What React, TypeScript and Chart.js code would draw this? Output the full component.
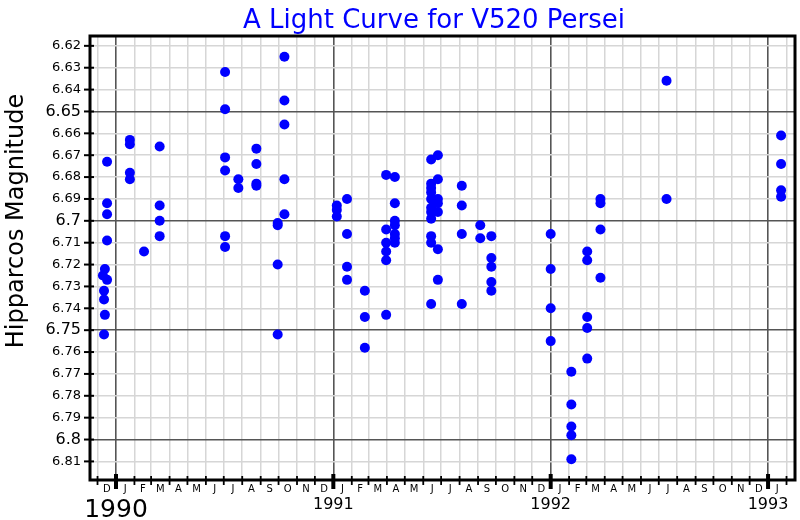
import React, { useEffect, useRef } from 'react';
import { Chart, registerables } from 'chart.js';

Chart.register(...registerables);

const TITLE = 'A Light Curve for V520 Persei';
const Y_LABEL = 'Hipparcos Magnitude';
const MONTH_LETTERS = ['J', 'F', 'M', 'A', 'M', 'J', 'J', 'A', 'S', 'O', 'N', 'D'];
const YEARS = [1990, 1991, 1992, 1993];
const Y_TICKS = [6.62, 6.63, 6.64, 6.65, 6.66, 6.67, 6.68, 6.69, 6.7, 6.71, 6.72, 6.73, 6.74, 6.75, 6.76, 6.77, 6.78, 6.79, 6.8, 6.81];
const Y_MAJOR = [6.65, 6.7, 6.75, 6.8];
const X_MIN = 1989.8805;
const X_MAX = 1993.124;
const Y_MIN = 6.6155;
const Y_MAX = 6.8185;

// observation epochs (decimal year) and Hipparcos magnitudes
const epochs = [
  1989.959, 1989.959, 1989.959, 1989.959, 1989.949, 1989.940, 1989.959, 1989.945, 1989.945, 1989.949, 1989.945,
  1990.064, 1990.064, 1990.064, 1990.064,
  1990.129,
  1990.201, 1990.201, 1990.201, 1990.201,
  1990.502, 1990.502, 1990.502, 1990.502, 1990.502, 1990.502,
  1990.563, 1990.563,
  1990.646, 1990.646, 1990.646, 1990.646,
  1990.744, 1990.744, 1990.744, 1990.744,
  1990.775, 1990.775, 1990.775, 1990.775, 1990.775,
  1991.016, 1991.016, 1991.016,
  1991.063, 1991.063, 1991.063, 1991.063,
  1991.145, 1991.145, 1991.145,
  1991.243, 1991.243, 1991.243, 1991.243, 1991.243, 1991.243,
  1991.283, 1991.283, 1991.283, 1991.283, 1991.283, 1991.283, 1991.283,
  1991.450, 1991.450, 1991.450, 1991.450, 1991.450, 1991.450, 1991.450, 1991.450, 1991.450, 1991.450, 1991.450,
  1991.481, 1991.481, 1991.481, 1991.481, 1991.481, 1991.481, 1991.481,
  1991.591, 1991.591, 1991.591, 1991.591,
  1991.676, 1991.676,
  1991.727, 1991.727, 1991.727, 1991.727, 1991.727,
  1992.000, 1992.000, 1992.000, 1992.000,
  1992.095, 1992.095, 1992.095, 1992.095, 1992.095,
  1992.168, 1992.168, 1992.168, 1992.168, 1992.168,
  1992.229, 1992.229, 1992.229, 1992.229,
  1992.533, 1992.533,
  1993.060, 1993.060, 1993.060, 1993.060,
];

const magnitudes = [
  6.673, 6.692, 6.697, 6.709, 6.722, 6.725, 6.727, 6.732, 6.736, 6.743, 6.752,
  6.663, 6.665, 6.678, 6.681,
  6.714,
  6.666, 6.693, 6.700, 6.707,
  6.632, 6.649, 6.671, 6.677, 6.707, 6.712,
  6.681, 6.685,
  6.667, 6.674, 6.683, 6.684,
  6.701, 6.702, 6.720, 6.752,
  6.625, 6.645, 6.656, 6.681, 6.697,
  6.693, 6.695, 6.698,
  6.690, 6.706, 6.721, 6.727,
  6.732, 6.744, 6.758,
  6.679, 6.704, 6.710, 6.714, 6.718, 6.743,
  6.680, 6.692, 6.700, 6.702, 6.706, 6.708, 6.710,
  6.672, 6.683, 6.685, 6.687, 6.690, 6.694, 6.696, 6.699, 6.707, 6.710, 6.738,
  6.670, 6.681, 6.690, 6.692, 6.696, 6.713, 6.727,
  6.684, 6.693, 6.706, 6.738,
  6.702, 6.708,
  6.707, 6.717, 6.721, 6.728, 6.732,
  6.706, 6.722, 6.740, 6.755,
  6.769, 6.784, 6.794, 6.798, 6.809,
  6.714, 6.718, 6.744, 6.749, 6.763,
  6.690, 6.692, 6.704, 6.726,
  6.636, 6.690,
  6.661, 6.674, 6.686, 6.689,
];

type TickDef = { value: number; kind: 'month' | 'year' | 'mid'; label: string };

function monthStart(y: number, m: number): number {
  const d = Date.UTC(y, m, 1);
  const yr = new Date(d).getUTCFullYear();
  const s = Date.UTC(yr, 0, 1);
  const e = Date.UTC(yr + 1, 0, 1);
  return yr + (d - s) / (e - s);
}

function buildXTicks(): TickDef[] {
  const defs: TickDef[] = [];
  let y = 1989;
  let m = 11;
  while (y < 1993 || (y === 1993 && m <= 0)) {
    const a = monthStart(y, m);
    const b = monthStart(y, m + 1);
    defs.push({ value: a, kind: m === 0 ? 'year' : 'month', label: '' });
    defs.push({ value: (a + b) / 2, kind: 'mid', label: MONTH_LETTERS[m] });
    m++;
    if (m > 11) { m = 0; y++; }
  }
  defs.push({ value: monthStart(1993, 1), kind: 'month', label: '' });
  return defs;
}

const X_TICKS = buildXTicks();
const FONT = '"DejaVu Sans", sans-serif';

export default function App() {
  const ref = useRef<HTMLCanvasElement | null>(null);

  useEffect(() => {
    if (!ref.current) return;
    const decor = {
      id: 'decor',
      afterDraw(chart: any) {
        const { ctx, chartArea: a, scales } = chart;
        const xs = scales.x;
        const ys = scales.y;
        ctx.save();
        ctx.strokeStyle = '#000';
        const line = (x1: number, y1: number, x2: number, y2: number) => {
          ctx.beginPath();
          ctx.moveTo(x1, y1);
          ctx.lineTo(x2, y2);
          ctx.stroke();
        };
        ctx.lineWidth = 2;
        for (const v of Y_TICKS) {
          const py = ys.getPixelForValue(v);
          line(a.left - 6, py, a.left + 4, py);
        }
        for (const d of X_TICKS) {
          if (d.kind === 'mid') continue;
          const px = xs.getPixelForValue(d.value);
          if (d.kind === 'year') {
            ctx.lineWidth = 4;
            line(px, a.bottom - 6, px, a.bottom + 9);
          } else {
            ctx.lineWidth = 1.8;
            line(px, a.bottom - 4, px, a.bottom + 5);
          }
        }
        ctx.lineWidth = 3;
        ctx.strokeRect(a.left, a.top, a.right - a.left, a.bottom - a.top);

        // year labels
        ctx.fillStyle = '#000';
        ctx.textAlign = 'center';
        ctx.textBaseline = 'alphabetic';
        for (const yr of YEARS) {
          const px = xs.getPixelForValue(yr);
          if (yr === 1990) {
            ctx.font = `25px ${FONT}`;
            ctx.fillText(String(yr), px, 517);
          } else {
            ctx.font = `16px ${FONT}`;
            ctx.fillText(String(yr), px, 509);
          }
        }
        // title
        ctx.fillStyle = '#0000ff';
        ctx.font = `26px ${FONT}`;
        ctx.fillText(TITLE, 434, 28);
        // y axis label
        ctx.fillStyle = '#000';
        ctx.translate(17, 221);
        ctx.rotate(-Math.PI / 2);
        ctx.font = `24px ${FONT}`;
        ctx.textBaseline = 'middle';
        ctx.fillText(Y_LABEL, 0, 0);
        ctx.restore();
      },
    };

    const chart = new Chart(ref.current, {
      type: 'scatter',
      data: {
        datasets: [
          {
            data: epochs.map((e, i) => ({ x: e, y: magnitudes[i] })),
            backgroundColor: '#0000ff',
            borderColor: '#0000ff',
            borderWidth: 0,
            pointRadius: 5,
          },
        ],
      },
      options: {
        animation: false,
        responsive: true,
        maintainAspectRatio: false,
        layout: { padding: { top: 36, right: 4, left: 0, bottom: 0 } },
        plugins: { legend: { display: false }, title: { display: false }, tooltip: { enabled: false } },
        scales: {
          x: {
            type: 'linear',
            min: X_MIN,
            max: X_MAX,
            afterBuildTicks: (scale: any) => {
              scale.ticks = X_TICKS.map((d) => ({ value: d.value }));
            },
            afterFit: (scale: any) => {
              scale.height = 40;
            },
            border: { display: false },
            grid: {
              drawTicks: false,
              color: (c: any) => {
                const d = X_TICKS[c.index];
                if (!d) return 'rgba(0,0,0,0)';
                if (d.kind === 'mid') return 'rgba(0,0,0,0)';
                if (d.kind === 'year') return '#555';
                return '#d6d6d6';
              },
              lineWidth: (c: any) => {
                const d = X_TICKS[c.index];
                return d && d.kind === 'year' ? 1.6 : 1.5;
              },
            },
            ticks: {
              autoSkip: false,
              maxRotation: 0,
              minRotation: 0,
              padding: 3,
              color: '#000',
              font: { family: FONT, size: 10 },
              callback: (_v: any, i: number) => (X_TICKS[i] ? X_TICKS[i].label : ''),
            },
          },
          y: {
            type: 'linear',
            reverse: true,
            min: Y_MIN,
            max: Y_MAX,
            afterBuildTicks: (scale: any) => {
              scale.ticks = Y_TICKS.map((v) => ({ value: v }));
            },
            afterFit: (scale: any) => {
              scale.width = 90;
            },
            border: { display: false },
            grid: {
              drawTicks: false,
              color: (c: any) => {
                const v = c.tick ? c.tick.value : NaN;
                return Y_MAJOR.some((m) => Math.abs(m - v) < 1e-6) ? '#555' : '#d6d6d6';
              },
              lineWidth: 1.5,
            },
            ticks: {
              autoSkip: false,
              padding: 9,
              color: '#000',
              font: (c: any) => {
                const v = c.tick ? c.tick.value : NaN;
                const major = Y_MAJOR.some((m) => Math.abs(m - v) < 1e-6);
                return { family: FONT, size: major ? 16 : 13 };
              },
              callback: (v: any) => String(+Number(v).toFixed(2)),
            },
          },
        },
      },
      plugins: [decor],
    } as any);

    return () => chart.destroy();
  }, []);

  return (
    <div style={{ position: 'fixed', left: 0, top: 0, width: 800, height: 520, background: '#fff' }}>
      <canvas ref={ref} />
    </div>
  );
}
